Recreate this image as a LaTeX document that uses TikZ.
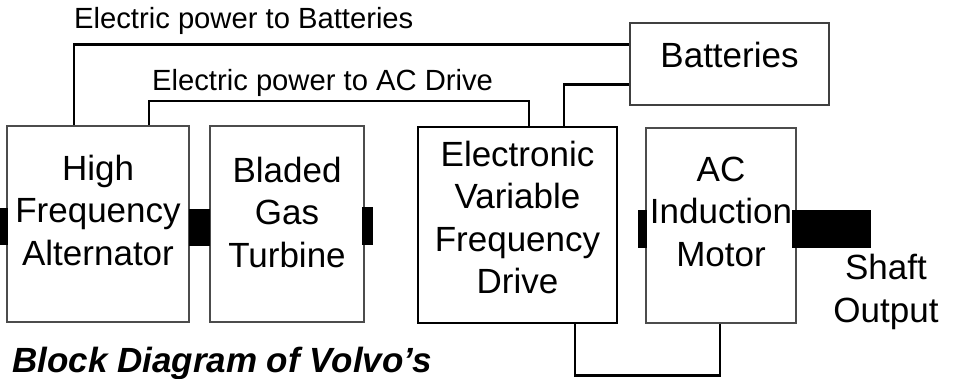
\documentclass[tikz,border=0pt]{standalone}
\usepackage{fontspec}
\setmainfont{Liberation Sans}
\usetikzlibrary{calc}

\begin{document}
\begin{tikzpicture}[x=1pt, y=-1pt,
  box/.style={draw=black!70, line width=2pt, inner sep=0pt,
              align=center, font=\fontsize{35}{42.5}\selectfont},
  wire/.style={line width=2.5pt, black},
  lbl/.style={font=\fontsize{29.2}{34}\selectfont, inner sep=0pt, anchor=base west},
  shaft/.style={fill=black, inner sep=0pt}
]
  \useasboundingbox (0,0) rectangle (953,378);

  \node[box, minimum width=182pt, minimum height=196pt, text depth=28pt]
    (hfa) at (98,224) {High\\Frequency\\Alternator};
  \node[box, minimum width=154pt, minimum height=196pt, text depth=23.5pt]
    (turbine) at (287,224) {Bladed\\Gas\\Turbine};
  \node[box, draw=black, line width=2.5pt, minimum width=199pt, minimum height=196pt,
        text depth=15.5pt]
    (drive) at (517.5,225) {Electronic\\Variable\\Frequency\\Drive};
  \node[box, minimum width=150pt, minimum height=195pt, text depth=27.5pt]
    (motor) at (721,225.5) {AC\\Induction\\Motor};
  \node[box, draw=black!75, line width=1.5pt, minimum width=199pt, minimum height=82pt,
        text depth=18pt]
    (batt) at (729.5,64) {Batteries};

  % shafts
  \node[shaft, minimum width=8pt, minimum height=37pt] (sh0) at (4,226.5) {};
  \node[shaft, minimum width=21pt, minimum height=37pt] (sh1) at (199.5,227.5) {};
  \node[shaft, minimum width=11pt, minimum height=38pt] (sh2) at (367.5,226) {};
  \node[shaft, minimum width=9pt, minimum height=38pt] (sh3) at (642.5,229) {};
  \node[shaft, minimum width=79pt, minimum height=38pt] (sh4) at (831.5,229) {};

  \node[font=\fontsize{35}{43}\selectfont, align=center, inner sep=0pt]
    (out) at (886,292) {Shaft\\Output};

  \node[lbl] (lb1) at (74,28) {Electric power to Batteries};
  \node[lbl] (lb2) at (152,90) {Electric power to AC Drive};
  \node[lbl, font=\fontsize{35}{40}\selectfont\bfseries\itshape]
    (title) at (12,372) {Block Diagram of Volvo’s};

  \draw[wire] ([xshift=-24pt]hfa.north) |- ([yshift=-22pt]batt.north west);
  \draw[wire] ([xshift=51pt]hfa.north) |- ++(0,-24) -| ([xshift=11.5pt]drive.north);
  \draw[wire] ([yshift=-62pt]batt.north west) -| ([xshift=46.5pt]drive.north);
  \draw[wire] ([xshift=57.5pt]drive.south) -- ++(0,51) -| ([xshift=-1pt]motor.south);

\end{tikzpicture}
\end{document}
